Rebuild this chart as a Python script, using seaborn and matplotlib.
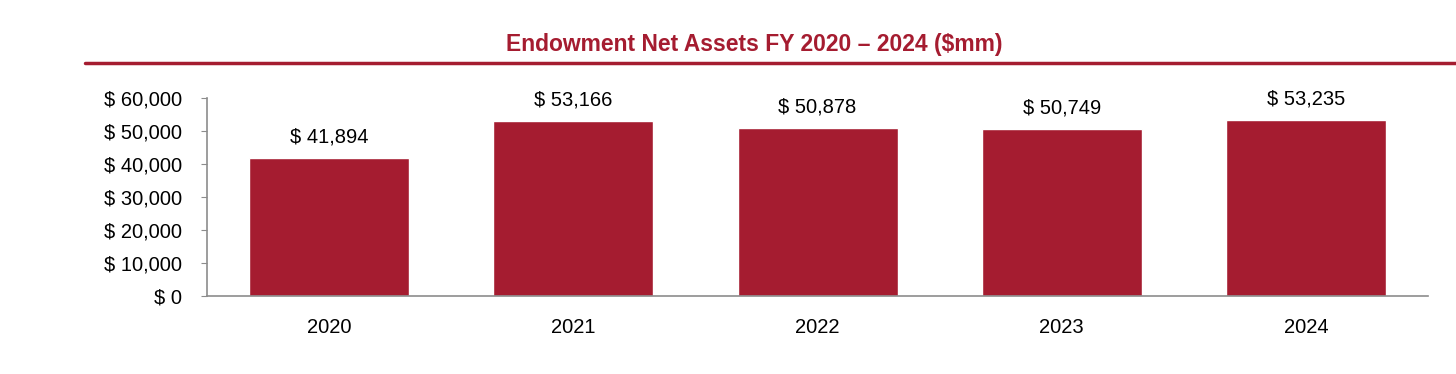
import pandas as pd
import seaborn as sns
import matplotlib.pyplot as plt
from matplotlib.lines import Line2D

years = ["2020", "2021", "2022", "2023", "2024"]
net_assets = [41894, 53166, 50878, 50749, 53235]
y_ticks = [0, 10000, 20000, 30000, 40000, 50000, 60000]

CRIMSON = "#A51C30"
GREY = "#8C8C8C"

sns.set_style("white")
plt.rcParams["font.family"] = ["Liberation Sans", "DejaVu Sans"]

df = pd.DataFrame({"year": years, "assets": net_assets})

fig = plt.figure(figsize=(14.56, 3.74), dpi=100)
ax = fig.add_axes([0.1422, 0.2086, 0.8386, 0.5294])

sns.barplot(data=df, x="year", y="assets", color=CRIMSON, saturation=1,
            width=0.655, ax=ax)

for i, v in enumerate(net_assets):
    ax.annotate(f"$ {v:,}", (i, v), xytext=(0, 15), textcoords="offset points",
                ha="center", va="center", fontsize=14.5, color="black")

ax.set_xlim(-0.5, 4.5)
ax.set_ylim(0, 60000)
ax.set_yticks(y_ticks)
ax.set_yticklabels([f"$ {t:,}" for t in y_ticks])
ax.set_xlabel("")
ax.set_ylabel("")

for s in ["top", "right"]:
    ax.spines[s].set_visible(False)
for s in ["left", "bottom"]:
    ax.spines[s].set_color(GREY)
    ax.spines[s].set_linewidth(1.2)

ax.tick_params(axis="y", which="both", left=True, length=4, color=GREY,
               labelsize=14.5, labelcolor="black", pad=14)
ax.tick_params(axis="x", bottom=False, labelsize=14.5, labelcolor="black",
               pad=12)

fig.text(0.518, 1 - 45 / 374, "Endowment Net Assets FY 2020 \u2013 2024 ($mm)",
         ha="center", va="center", fontsize=16.5, fontweight="bold",
         color=CRIMSON)
fig.add_artist(Line2D([85 / 1456, 1.0], [1 - 63 / 374, 1 - 63 / 374],
                      color=CRIMSON, linewidth=2.5, transform=fig.transFigure))

plt.savefig("out.png", dpi=100)
